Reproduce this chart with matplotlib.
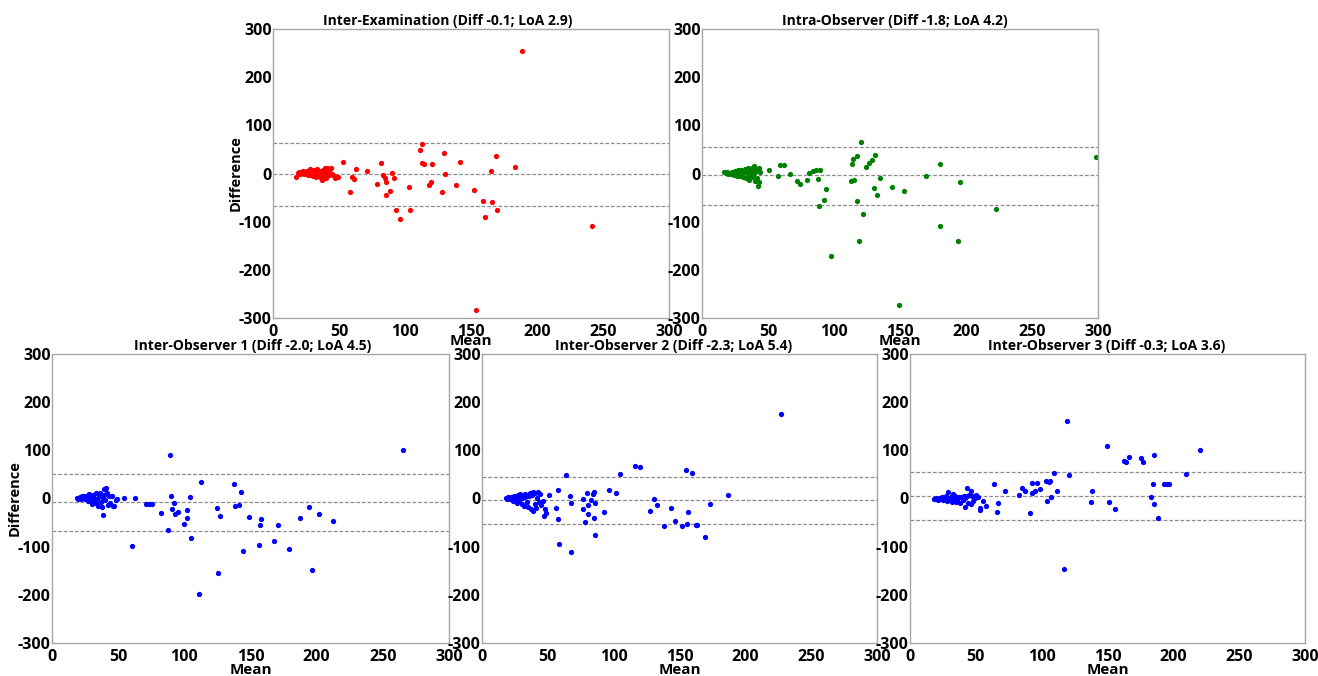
import matplotlib
matplotlib.use("Agg")
import matplotlib.pyplot as plt

plt.rcParams['font.family'] = ['Open Sans', 'DejaVu Sans']
plt.rcParams['font.weight'] = 'bold'
plt.rcParams['axes.unicode_minus'] = False

# ---- data ----
titles = [
    "Inter-Examination (Diff -0.1; LoA 2.9)",
    "Intra-Observer (Diff -1.8; LoA 4.2)",
    "Inter-Observer 1 (Diff -2.0; LoA 4.5)",
    "Inter-Observer 2 (Diff -2.3; LoA 5.4)",
    "Inter-Observer 3 (Diff -0.3; LoA 3.6)",
]
colors = ['#ff0000', '#008000', '#0000ff', '#0000ff', '#0000ff']

# upper LoA, mean difference, lower LoA (as drawn)
lines_exam = [63, -2, -68]
lines_intra = [56, -4, -66]
lines_obs1 = [51, -8, -67]
lines_obs2 = [45, -3, -52]
lines_obs3 = [56, 6, -45]

mean_exam = [17.4, 19.0, 20.0, 20.5, 21.5, 22.0, 23.0, 23.5, 24.5, 25.0, 26.0, 26.5, 27.0, 28.0,
             28.5, 29.0, 29.5, 30.5, 31.0, 32.0, 32.5, 33.0, 33.5, 34.5, 35.0, 36.0, 36.5, 37.0,
             37.5, 38.0, 39.0, 39.5, 40.0, 40.5, 41.0, 42.0, 42.5, 43.0, 44.0, 45.0, 46.0, 47.0,
             48.0, 49.5,
             52.8, 58.0, 59.8, 61.0, 62.6, 71.2, 78.5, 82.0, 83.6, 84.8, 85.4, 85.9, 88.9, 90.0,
             91.7, 93.4, 96.5, 103.3, 104.0, 111.1, 112.9, 113.1, 114.6, 118.2, 119.4, 120.5,
             128.0, 129.8, 130.6, 138.9, 141.4, 152.5, 159.1, 160.9, 165.2, 165.9, 169.2, 169.7,
             183.3, 188.6, 241.7, 154.0]
diff_exam = [-8, 2, 4, -1, 3, 1, 5, -2, 4, 2, 6, -3, 1, 9, -4, 5, 3, -6, 7, 0, -8, 4, 9, -5, 2,
             -10, 6, -13, 1, 8, -6, 11, 3, -9, 12, 5, -3, 10, 12, -1, -6, -9, -7, -8,
             24.6, -37.7, -8, -12, 10, 4.5, -22.5, 21, -3.8, -8.7, -17, -44.6, -36, 0.3,
             -9.3, -75.8, -93.8, -27.3, -76.5, 48.8, 61.9, 21.8, 19, -23.9, -18.3, 19.7,
             -39, 43.3, -0.3, -23.2, 24.6, -34.3, -57, -91, 5.9, -58.5, 35.6, -76.5,
             14.2, 255, -110, -284]

mean_intra = [17, 18, 19, 20, 21, 22, 23, 24, 25, 26, 26.5, 27, 28, 29, 29.5, 30, 31, 32, 32.5,
              33, 34, 34.5, 35, 35.5, 36, 37, 37.5, 38, 38.5, 39, 39.5, 40, 40.5, 41, 41.5, 42,
              42.5, 43, 43.5, 44,
              50.8, 57.2, 59.2, 62.0, 66.8, 72.1, 73.9, 79.7, 81.2, 84.2, 86.0, 87.5, 88.5, 89.3,
              92.1, 93.6, 97.4, 113.3, 113.1, 114.1, 114.9, 117.1, 117.4, 118.9, 120.4, 121.7,
              124.5, 126.2, 128.5, 130.0, 131.3, 132.3, 134.8, 143.7, 149.0, 153.0, 170.0,
              180.6, 180.6, 194.0, 195.3, 223.1, 298.3]
diff_intra = [3, 1, 4, -1, 2, 0, 3, -3, 5, 1, -5, 7, 2, -6, 8, 0, -7, 4, 10, -9, 6, -3, 11, -14,
              2, 9, -8, 12, -4, 6, 15, -16, 3, 10, -9, 5, -25, 12, -18, 3,
              7.3, -5.9, 17, 17, -1, -14.9, -21.8, -12.8, 0.3, 4.5, 7.3, -11.4, -66.8, 6.6,
              -54.3, -32.9, -170.6, 19.7, -15.6, 30.1, -13.5, 35.6, -56.4, -140.8, 65.4, -83.4,
              12.8, 21.1, 28, -30.1, 39.1, -44.6, -9.3, -28.7, -274, -37, -4.5,
              19, -109, -139.4, -18.3, -73, 35]

mean_obs1 = [19, 20, 21, 22, 22.5, 23, 24, 25, 26, 27, 27.5, 28, 29, 29.5, 30, 31, 31.5, 32, 33,
             33.5, 34, 35, 35.5, 36, 37, 37.5, 38, 38.3, 39, 39.5, 40, 41, 41.5, 42, 43, 44, 45,
             46, 47, 48, 49,
             54.4, 60.5, 63.0, 70.8, 73.0, 75.8, 82.4, 87.7, 89.4, 89.9, 90.9, 91.9, 92.9, 95.0,
             99.5, 101.8, 102.0, 104.5, 105.3, 110.8, 112.6, 124.7, 125.7, 127.2, 137.8, 138.5,
             141.3, 143.1, 144.6, 148.9, 156.2, 157.0, 158.0, 167.8, 171.0, 178.8, 187.7,
             194.0, 196.7, 201.5, 212.3, 265.0]
diff_obs1 = [2, 0, 4, -2, 6, 1, 5, -1, 3, 8, -6, 10, -3, 4, -12, 7, -5, 2, 11, -9, 0, -15, 6,
             12, -8, 3, -18, -34, 19, 8, -4, 22, 11, -14, 5, -9, 6, -16, -15, -3, -2,
             1, -98, 0.3, -12, -12, -11.4, -30.8, -64.7, 91, 5.2, -22.5, -10, -31.5, -27.3,
             -52.2, -23.2, -40.5, 3.1, -82, -198.3, 33.6, -20.4, -154, -35.6, 30.8, -15.6,
             -14.2, 14.2, -109.7, -37.7, -96.5, -55.7, -43.3, -87.5, -55.7, -104.8, -41.2,
             -17, -147.8, -31.5, -46, 100]

mean_obs2 = [18, 19, 20, 21, 22, 23, 23.5, 24, 25, 26, 26.5, 27, 28, 28.5, 29, 30, 30.5, 31, 32,
             32.5, 33, 34, 35, 36, 36.5, 37, 38, 38.7, 39, 40, 40.5, 41, 42, 42.5, 43, 44, 45,
             46.3, 47, 47.6, 48.3, 50.6,
             56.2, 57.7, 57.7, 58.7, 63.7, 67.0, 67.3, 67.3, 76.4, 76.6, 78.4, 79.7, 80.2, 80.4,
             82.7, 84.2, 85.0, 85.2, 85.5, 86.0, 92.8, 96.4, 101.9, 104.5, 116.4, 120.2, 127.5,
             130.5, 133.0, 138.4, 143.9, 146.5, 152.0, 155.1, 155.6, 156.1, 159.4, 162.2, 163.4,
             169.2, 173.0, 186.9, 226.9]
diff_obs2 = [2, 0, 3, -2, 4, 1, -5, 6, -3, 2, -10, 8, -6, 4, 9, -11, 1, 6, -15, 3, 10, -8, -18,
             5, 12, -22, 8, -25, 14, -12, 12, -20, 2, 13, -8, 10, -14, -6, -36, -22, -30, 7,
             -19.7, 17.6, -43.3, -95.2, 49.5, 5.9, -10, -111, -0.3, -21.1, -48.1, 12.1, -14.2,
             -31.5, -3.8, 9.3, -41.2, 12.8, -8.7, -75.8, -27.3, 17.6, 12.1, 51.6, 67.5, 65.4,
             -26.6, -1, -12.8, -57.8, -20.4, -46.7, -57, 60, -52.9, -27.3, 52.2, -55.7, -55.7,
             -79.2, -10.7, 6.6, 174.7]

mean_obs3 = [18, 19, 20, 21, 22, 23, 24, 25, 26, 27, 28, 29, 29.1, 30, 31, 32, 32.5, 33, 34, 35,
             35.5, 36, 37, 38, 39, 40, 41, 41.7, 42, 43, 43.5, 44, 45, 46, 46.3, 47, 48, 49.3,
             50.3, 51.5,
             52.9, 53.1, 55.7, 57.7, 64.0, 66.3, 67.0, 72.1, 83.0, 85.0, 87.0, 91.0, 92.3, 92.8,
             94.9, 96.1, 98.7, 103.5, 104.2, 105.2, 106.2, 107.3, 109.3, 111.3, 116.9, 119.4,
             120.9, 137.6, 138.4, 149.5, 151.0, 155.6, 162.9, 163.7, 166.2, 175.6, 177.1,
             183.4, 184.2, 185.4, 185.4, 188.0, 192.8, 195.3, 196.6, 209.5, 220.1]
diff_obs3 = [0, -2, 1, -3, 2, -1, 3, -4, 0, 5, -6, 2, 13, -3, 4, -7, 9, -2, 5, -8, 1, -5, 3, -9,
             4, -3, 6, -17, 1, 5, 21, -10, 8, -12, 16, 5, -6, 1, 7, 4,
             -23.2, -19, -5.9, -14.9, 30.1, -27.3, -10, 16.3, 8, 22.5, 15.6, -29.4, 31.5, 10.7,
             15.6, 32.2, 19, 37, -4.5, 34.3, 37, 2.4, 52.2, 16.3, -145.7, 160.2,
             48.8, -6.6, 15.6, 108.3, -6.6, -22.5, 77.2, 76.5, 86.2, 84.8, 75.8,
             2.4, 30.1, 91, -12.1, -41.2, 30.1, 30.1, 30.1, 51.6, 101.4]

panels = [
    (mean_exam, diff_exam, lines_exam),
    (mean_intra, diff_intra, lines_intra),
    (mean_obs1, diff_obs1, lines_obs1),
    (mean_obs2, diff_obs2, lines_obs2),
    (mean_obs3, diff_obs3, lines_obs3),
]

# axes boxes in figure pixels: left, top, right, bottom; plus title centre (axes fraction)
W, H = 1318, 676
boxes = [
    (273, 29, 669, 318),
    (702, 29, 1098, 318),
    (52, 354, 449, 643),
    (482, 354, 877, 643),
    (910, 354, 1305, 643),
]
title_x = [0.44, 0.487, 0.506, 0.486, 0.497]

fig = plt.figure(figsize=(W / 100, H / 100), dpi=100)

for i, ((mx, df, lns), box) in enumerate(zip(panels, boxes)):
    l, t, r, b = box
    ax = fig.add_axes([l / W, 1 - b / H, (r - l) / W, (b - t) / H])
    for v in lns:
        ax.axhline(v, color='#8c8c8c', lw=0.9, ls=(0, (3, 1.5)), zorder=1)
    ax.plot(mx, df, 'o', color=colors[i], markersize=3.8, markeredgewidth=0, zorder=2)
    ax.set_xlim(0, 300)
    ax.set_ylim(-300, 300)
    ax.set_xticks([0, 50, 100, 150, 200, 250, 300])
    ax.set_yticks([-300, -200, -100, 0, 100, 200, 300])
    ax.tick_params(length=0, labelsize=11.5)
    ax.tick_params(axis='x', pad=4)
    ax.tick_params(axis='y', pad=1)
    for lab in ax.get_xticklabels() + ax.get_yticklabels():
        lab.set_fontweight('bold')
    for s in ax.spines.values():
        s.set_color('#a6a6a6')
        s.set_linewidth(1.0)
    ax.set_title(titles[i], fontsize=10, fontweight='bold', pad=3, x=title_x[i])
    # top row: "Mean" tucked up so it does not run into the titles below
    ax.set_xlabel('Mean', fontsize=11, fontweight='bold', labelpad=-4 if i < 2 else -1)
    if i in (0, 2):
        ax.set_ylabel('Difference', fontsize=10.5, fontweight='bold', labelpad=-3)

fig.savefig('out.png', dpi=100)
